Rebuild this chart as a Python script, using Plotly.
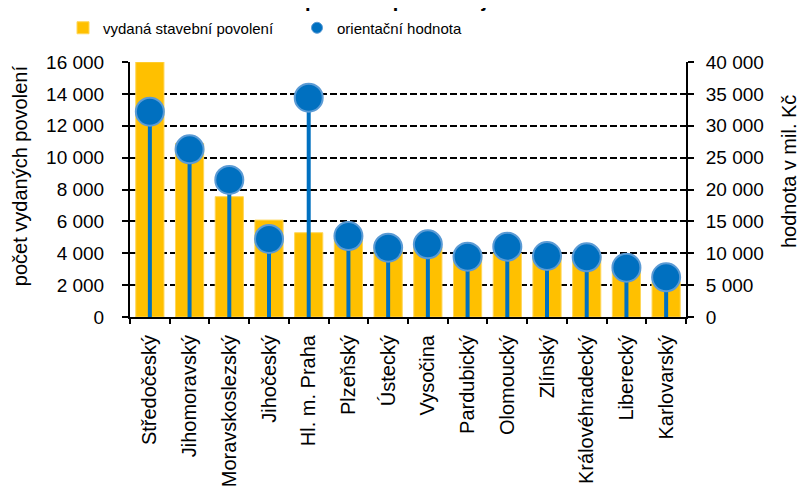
import plotly.graph_objects as go

# data
regions = [
    "Středočeský", "Jihomoravský", "Moravskoslezský", "Jihočeský", "Hl. m. Praha",
    "Plzeňský", "Ústecký", "Vysočina", "Pardubický", "Olomoucký", "Zlínský",
    "Královéhradecký", "Liberecký", "Karlovarský",
]
permits = [16000, 10900, 7550, 6080, 5290, 4960, 4330, 4400, 4000, 4000, 3890, 3850, 2950, 2220]
value_mil_czk = [32200, 26300, 21500, 12240, 34400, 12700, 10870, 11400, 9460, 11030, 9570, 9360, 7730, 6230]

YELLOW = "#FFC000"
BLUE = "#0070C0"
FONT = "Arial, Liberation Sans, sans-serif"

fig = go.Figure()

fig.add_trace(
    go.Bar(
        x=regions,
        y=permits,
        name="vydaná stavební povolení",
        marker={"color": YELLOW, "line": {"color": "#FFD75A", "width": 1}},
        width=0.71,
    )
)

# stems + circles on the secondary axis
fig.add_trace(
    go.Scatter(
        x=regions,
        y=value_mil_czk,
        yaxis="y2",
        mode="markers",
        showlegend=False,
        marker={"size": 28, "color": BLUE, "line": {"color": "#5B9BD5", "width": 2}},
        error_y={
            "type": "data",
            "symmetric": False,
            "array": [0] * len(value_mil_czk),
            "arrayminus": value_mil_czk,
            "color": BLUE,
            "thickness": 4,
            "width": 0,
        },
        cliponaxis=False,
    )
)

# legend-only entry with a small circle
fig.add_trace(
    go.Scatter(
        x=[None],
        y=[None],
        yaxis="y2",
        mode="markers",
        name="orientační hodnota",
        marker={"size": 11, "color": BLUE, "line": {"color": "#5B9BD5", "width": 1}},
    )
)

axis_font = {"family": FONT, "size": 19, "color": "black"}

# the page body adds an 8px margin, so the figure is 8px smaller and shifted
fig.update_layout(
    width=798,
    height=488,
    margin={"l": 122, "r": 120, "t": 54, "b": 179, "autoexpand": False},
    paper_bgcolor="white",
    plot_bgcolor="white",
    separators=", ",
    barmode="overlay",
    font={"family": FONT, "color": "black"},
    legend={
        "orientation": "h",
        "x": -0.1205,
        "xanchor": "left",
        "y": 1.1333,
        "yanchor": "middle",
        "font": {"family": FONT, "size": 15, "color": "black"},
        "entrywidth": 189,
        "entrywidthmode": "pixels",
        "traceorder": "normal",
        "bgcolor": "rgba(0,0,0,0)",
    },
    xaxis={
        "range": [-0.5, len(regions) - 0.5],
        "showline": True,
        "linecolor": "black",
        "linewidth": 2,
        "ticks": "outside",
        "tickson": "boundaries",
        "ticklen": 5,
        "tickcolor": "black",
        "tickwidth": 1.5,
        "tickangle": -90,
        "tickfont": {"family": FONT, "size": 20, "color": "black"},
        "ticklabelstandoff": 8,
        "showgrid": False,
    },
    yaxis={
        "range": [0, 16000],
        "dtick": 2000,
        "tickformat": ",d",
        "showgrid": True,
        "gridcolor": "black",
        "gridwidth": 1.5,
        "griddash": "7px,3px",
        "zeroline": False,
        "showline": True,
        "linecolor": "black",
        "linewidth": 2,
        "ticks": "outside",
        "ticklen": 6,
        "tickcolor": "black",
        "tickwidth": 1.5,
        "tickfont": axis_font,
        "ticklabelstandoff": 14,
    },
    yaxis2={
        "range": [0, 40000],
        "dtick": 5000,
        "tickformat": ",d",
        "overlaying": "y",
        "side": "right",
        "showgrid": False,
        "zeroline": False,
        "showline": True,
        "linecolor": "black",
        "linewidth": 2,
        "ticks": "outside",
        "ticklen": 6,
        "tickcolor": "black",
        "tickwidth": 1.5,
        "tickfont": axis_font,
        "ticklabelstandoff": 8,
    },
    annotations=[
        # title sits mostly above the visible area, as in the reference
        {
            "text": "<b>Stavební povolení podle krajů a hodnota</b>",
            "xref": "paper", "yref": "paper",
            "x": 0.5, "y": 1.2431,
            "xanchor": "center", "yanchor": "middle",
            "showarrow": False,
            "font": {"family": FONT, "size": 20, "color": "black"},
        },
        {
            "text": "počet vydaných povolení",
            "xref": "paper", "yref": "paper",
            "x": -0.1975, "y": 0.553,
            "xanchor": "center", "yanchor": "middle",
            "textangle": -90,
            "showarrow": False,
            "font": {"family": FONT, "size": 20, "color": "black"},
        },
        {
            "text": "hodnota v mil. Kč",
            "xref": "paper", "yref": "paper",
            "x": 1.1853, "y": 0.5686,
            "xanchor": "center", "yanchor": "middle",
            "textangle": -90,
            "showarrow": False,
            "font": {"family": FONT, "size": 20, "color": "black"},
        },
    ],
)

fig.write_html("out.html")
